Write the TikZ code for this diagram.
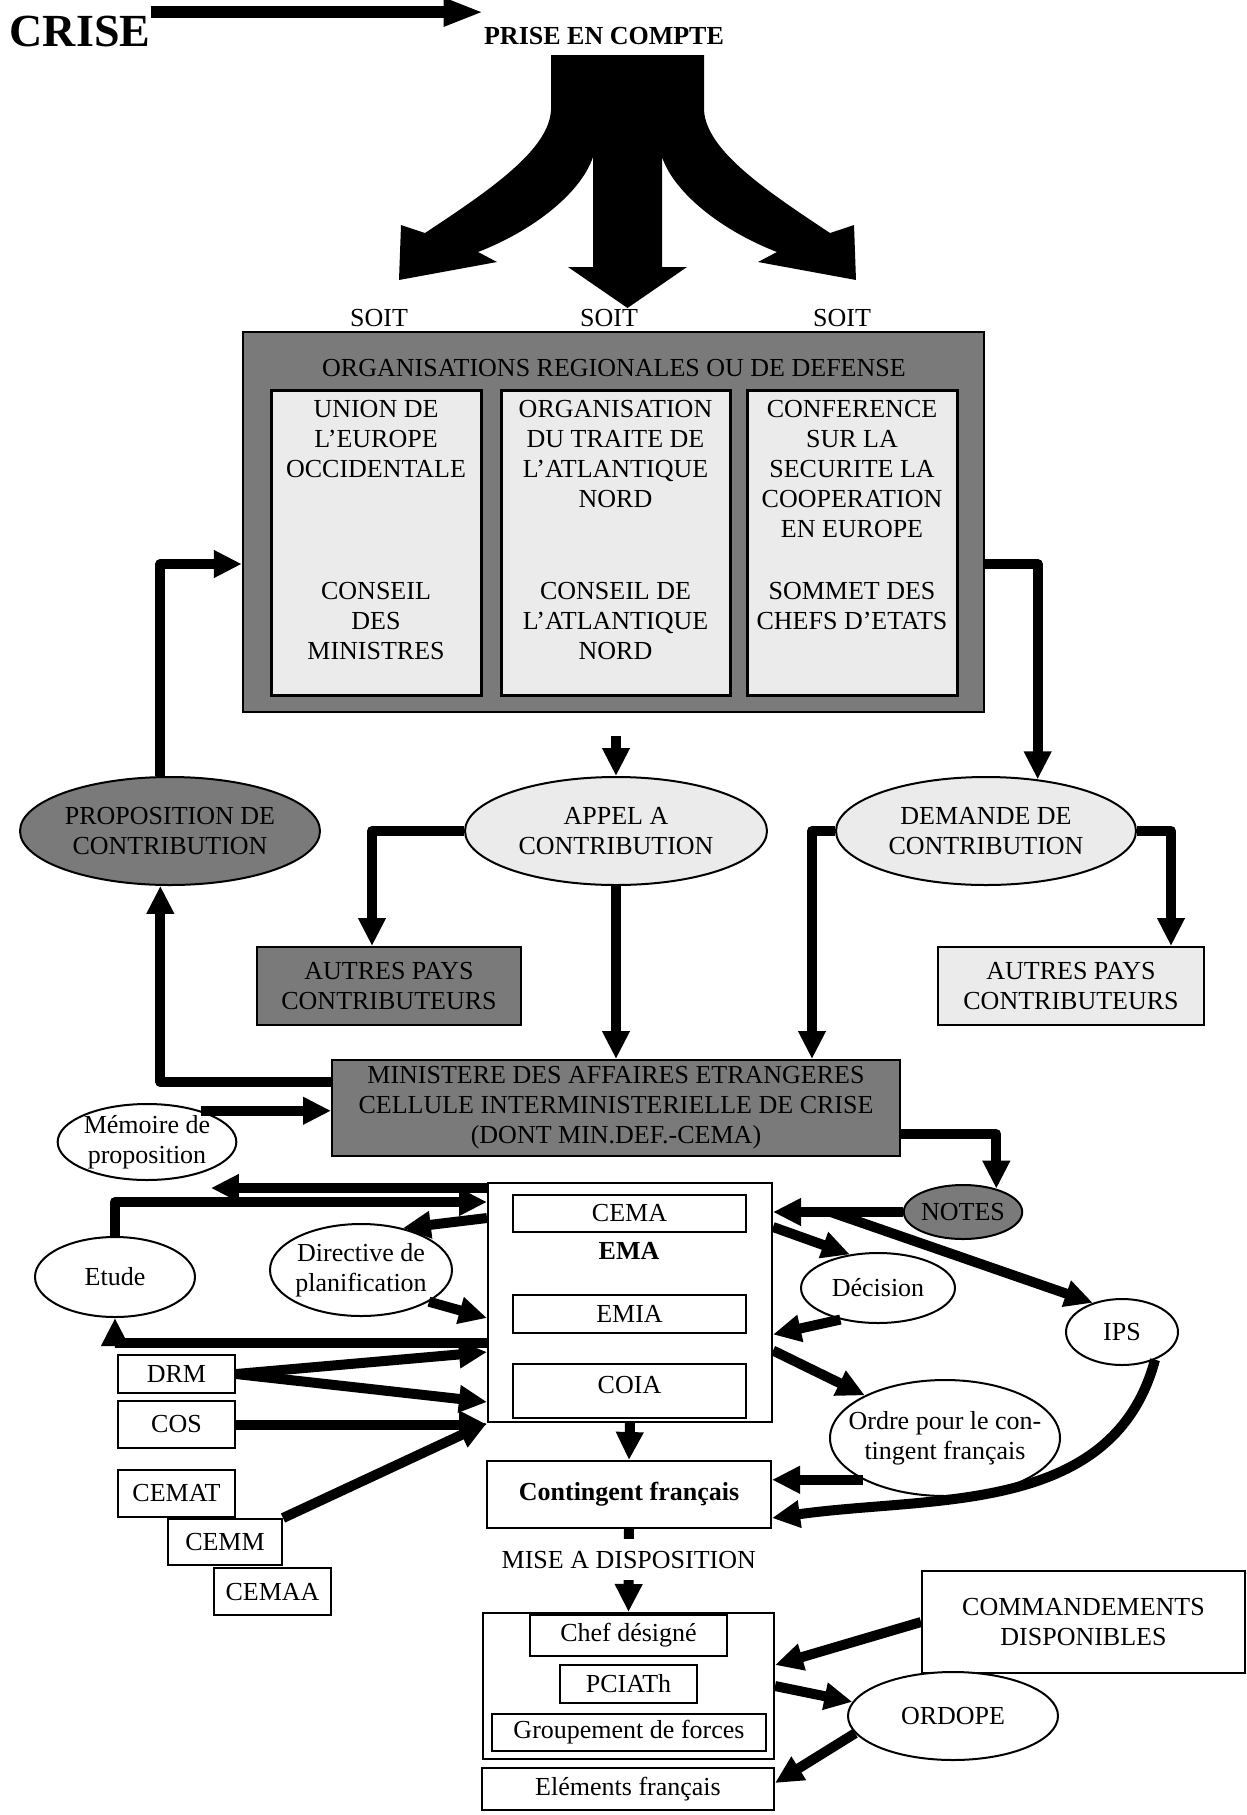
\documentclass[tikz,border=0pt]{standalone}
\usepackage{fontspec}
\setmainfont{Liberation Serif}
\usetikzlibrary{shapes.geometric,arrows.meta,calc}

\tikzset{
  dark/.style={fill=black!52},
  light/.style={fill=black!8},
  box/.style={draw, line width=1pt, inner sep=0pt, align=center},
  oval/.style={draw, ellipse, line width=1pt, inner sep=0pt, align=center},
  lbl/.style={inner sep=0pt, align=center},
  flow/.style={line width=5pt, line join=round, -{Triangle[length=14pt,width=13pt]}},
}

\begin{document}
\begin{tikzpicture}[x=0.5pt, y=-0.5pt, font=\fontsize{13}{15}\selectfont]

    \useasboundingbox (0,0) rectangle (1247,1815);

    \node [lbl, font=\fontsize{23}{26}\selectfont\bfseries] at (80,31) (crise) {CRISE};
    \node [lbl, font=\fontsize{13}{15}\selectfont\bfseries] at (604,36) (prise) {PRISE EN COMPTE};
    \draw [line width=6pt, -{Triangle[length=20pt,width=13pt]}] ([yshift=1.5pt]crise.north east) -- ([yshift=1.5pt]crise.north east -| prise.west);

    \fill (551,55) -- (704,55) -- (704,110) .. controls (706,150) and (765,190) .. (830,233)
        -- (854,225) -- (856,280) -- (758,262) -- (777,252) .. controls (725,232) and (675,195) .. (662,157)
        -- (662,267) -- (687,267) -- (627.5,308) -- (568,267) -- (593,267) -- (593,157)
        .. controls (580,195) and (530,232) .. (478,252) -- (497,262) -- (399,280) -- (401,225)
        -- (425,233) .. controls (490,190) and (549,150) .. (551,110) -- cycle;

    \node [lbl] at (379,318) (soitA) {SOIT};
    \node [lbl] at (609,318) (soitB) {SOIT};
    \node [lbl] at (842,318) (soitC) {SOIT};

    \node [box, dark, line width=1.2pt, minimum width=370.5pt, minimum height=190pt] at (613.5,522) (org) {};
    \node [lbl] at (614,368) (orgtitle) {ORGANISATIONS REGIONALES OU DE DEFENSE};
    \node [box, light, line width=1.5pt, minimum width=105pt, minimum height=152.5pt] at (376,542.5) (ueo) {};
    \node [box, light, line width=1.5pt, minimum width=114.5pt, minimum height=152.5pt] at (615.5,542.5) (otan) {};
    \node [box, light, line width=1.5pt, minimum width=105pt, minimum height=152.5pt] at (852,542.5) (csce) {};
    \node [lbl, anchor=north] at (376,400) (ueotop) {UNION DE\\L’EUROPE\\OCCIDENTALE};
    \node [lbl, anchor=north] at (376,582) (ueobot) {CONSEIL\\DES\\MINISTRES};
    \node [lbl, anchor=north] at (615.5,400) (otantop) {ORGANISATION\\DU TRAITE DE\\L’ATLANTIQUE\\NORD};
    \node [lbl, anchor=north] at (615.5,582) (otanbot) {CONSEIL DE\\L’ATLANTIQUE\\NORD};
    \node [lbl, anchor=north] at (852,400) (cscetop) {CONFERENCE\\SUR LA\\SECURITE LA\\COOPERATION\\EN EUROPE};
    \node [lbl, anchor=north] at (852,582) (cscebot) {SOMMET DES\\CHEFS D’ETATS};

    \node [oval, dark, minimum width=150pt, minimum height=54pt] at (170,831) (prop) {PROPOSITION DE\\CONTRIBUTION};
    \node [oval, light, minimum width=151pt, minimum height=54pt] at (616,831) (appel) {APPEL A\\CONTRIBUTION};
    \node [oval, light, minimum width=150pt, minimum height=54pt] at (986,831) (dem) {DEMANDE DE\\CONTRIBUTION};
    \node [box, dark, minimum width=132pt, minimum height=39pt] at (389,986) (autA) {AUTRES PAYS\\CONTRIBUTEURS};
    \node [box, light, minimum width=133pt, minimum height=39pt] at (1071,986) (autB) {AUTRES PAYS\\CONTRIBUTEURS};
    \node [box, dark, minimum width=284pt, minimum height=48pt] at (616,1108) (mae) {MINISTERE DES AFFAIRES ETRANGERES\\CELLULE INTERMINISTERIELLE DE CRISE\\(DONT MIN.DEF.-CEMA)};
    \node [oval, fill=white, minimum width=85pt, minimum height=38pt] at (147,1142) (mem) {Mémoire de\\proposition};

    \draw [flow] (prop.100) |- ([yshift=-21pt]org.west);
    \draw [flow, shorten <=11.5pt] (org.south -| appel.north) -- (appel.north);
    \draw [flow] ([yshift=-21pt]org.east) -| (dem.45);
    \draw [flow] (appel.west) -| ([xshift=-8.5pt]autA.north);
    \draw [flow] (appel.south) -- (mae.north -| appel.south);
    \draw [flow] (dem.west) -| ([xshift=98pt]mae.north);
    \draw [flow] (dem.east) -| ([xshift=50pt]autB.north);
    \draw [flow] ([yshift=13pt]mae.west) -| (prop.260);
    \draw [flow] (mem.30) -- (mem.30 -| mae.west);

    \node [box, minimum width=142pt, minimum height=119.5pt] at (630,1302.5) (ema) {};
    \node [box, minimum width=116.5pt, minimum height=18.5pt] at (629.5,1213.5) (cema) {CEMA};
    \node [lbl, font=\fontsize{13}{15}\selectfont\bfseries] at (629,1251) (emalbl) {EMA};
    \node [box, minimum width=116.5pt, minimum height=19pt] at (629.5,1314) (emia) {EMIA};
    \node [box, minimum width=116.5pt, minimum height=27pt, text depth=6pt] at (629.5,1391) (coia) {COIA};
    \node [oval, dark, minimum width=56pt, minimum height=27pt] at (963,1212) (notes) {NOTES};
    \node [oval, fill=white, minimum width=80pt, minimum height=40pt] at (115,1277) (etude) {Etude};
    \node [oval, fill=white, inner xsep=-3pt, minimum width=91pt, minimum height=46pt] at (361,1270) (dir) {Directive de\\planification};
    \node [oval, fill=white, minimum width=77pt, minimum height=35pt] at (878,1288) (dec) {Décision};
    \node [oval, fill=white, minimum width=56pt, minimum height=33pt] at (1122,1332) (ips) {IPS};
    \node [oval, fill=white, inner xsep=-12pt, minimum width=115pt, minimum height=58pt] at (945,1438) (ordre) {Ordre pour le con-\\tingent français};
    \node [box, minimum width=58.5pt, minimum height=19pt] at (176.5,1374) (drm) {DRM};
    \node [box, minimum width=58.5pt, minimum height=23.5pt] at (176.5,1424.5) (cos) {COS};
    \node [box, fill=white, minimum width=58.5pt, minimum height=23.5pt] at (176.5,1493.5) (cemat) {CEMAT};
    \node [box, fill=white, minimum width=57pt, minimum height=23pt] at (225,1542) (cemm) {CEMM};
    \node [box, fill=white, minimum width=58.5pt, minimum height=23.5pt] at (272.5,1591.5) (cemaa) {CEMAA};

    \node [box, minimum width=142pt, minimum height=33.5pt, font=\fontsize{13}{15}\selectfont\bfseries] at (629,1494.5) (cont) {Contingent français};
    \node [box, minimum width=145.5pt, minimum height=73pt] at (628.5,1686) (grp) {};
    \node [box, fill=white, minimum width=98.5pt, minimum height=20.5pt] at (628.5,1635.5) (chef) {Chef désigné};
    \node [box, minimum width=68.5pt, minimum height=19pt] at (628.5,1684) (pciath) {PCIATh};
    \node [box, minimum width=137pt, minimum height=18.5pt] at (629,1732.5) (gdf) {Groupement de forces};
    \node [box, minimum width=146pt, minimum height=21pt] at (628,1789) (elem) {Eléments français};
    \node [box, minimum width=161.5pt, minimum height=51pt] at (1083.5,1622) (cmd) {COMMANDEMENTS\\DISPONIBLES};
    \node [oval, fill=white, minimum width=105pt, minimum height=44pt] at (953,1716) (ordope) {ORDOPE};

    \draw [flow] ([yshift=-13pt]mae.east) -| (notes.35);
    \draw [flow] ([yshift=-3pt]ema.north west -| ema.north west) -- ([yshift=-3pt]ema.north west -| mem.south east);
    \draw [flow] (etude.north) |- ([yshift=-10pt]ema.north west);
    \draw [flow] ([yshift=-18pt]ema.north west) -- (dir.45);
    \draw [flow] (dir.-25) -- ([yshift=-7.75pt]ema.west);
    \draw [flow] ([yshift=-20pt]ema.west) -| (etude.south);
    \draw [flow] (drm.east) -- ([yshift=-24.75pt]ema.west);
    \draw [flow] (drm.east) -- ([yshift=-49.75pt]ema.west);
    \draw [flow] (cos.east) -- (cos.east -| ema.west);
    \draw [flow] (cemm.north east) -- (ema.south west);
    \draw [flow] (notes.west) -- (notes.west -| ema.east);
    \coordinate (split) at ([xshift=-36pt]notes.west);
    \draw [flow] (split) -- (ips.135);
    \draw [flow] ([yshift=-22.5pt]ema.north east) -- (dec.130);
    \draw [flow] (dec.-140) -- ([yshift=-16pt]ema.east);
    \draw [flow] ([yshift=-24pt]ema.east) -- (ordre.152);
    \draw [flow] (ema.south) -- (cont.north);
    \draw [flow] (ordre.207) -- (ordre.207 -| cont.east);
    \draw [flow] (ips.-40) to[out=-105, in=8] ([yshift=-11.75pt]cont.east);
    \draw [flow] (cont.south) -- (grp.north) node [pos=0.37, fill=white, inner xsep=2pt, inner ysep=6pt] (mad) {MISE A DISPOSITION};
    \draw [flow] (cmd.west) -- ([yshift=10.5pt]grp.east);
    \draw [flow] (grp.east) -- (ordope.172);
    \draw [flow] (ordope.190) -- ([yshift=3pt]elem.east);

\end{tikzpicture}
\end{document}
